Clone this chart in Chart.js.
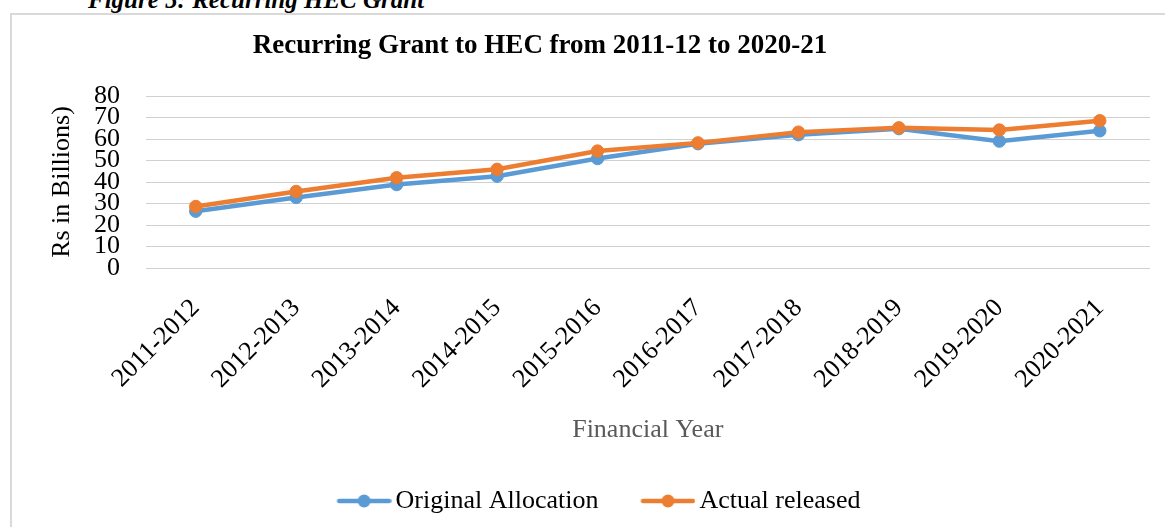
<!DOCTYPE html>
<html><head><meta charset="utf-8">
<script src="https://cdn.jsdelivr.net/npm/chart.js@4.4.1/dist/chart.umd.min.js"></script>
<style>
html,body{margin:0;padding:0;background:#fff;overflow:hidden;width:1165px;height:527px;}
#frame{position:absolute;left:10px;top:13px;width:1400px;height:800px;border:2px solid #d9d9d9;box-sizing:border-box;}
#cap{position:absolute;left:88px;top:-13px;font:italic bold 25px "Liberation Serif","Times New Roman",serif;line-height:25px;white-space:nowrap;color:#000;}
#c{position:absolute;left:0;top:0;}
</style></head><body>
<div id="frame"></div>
<div id="cap">Figure 5: Recurring HEC Grant</div>
<canvas id="c" width="1165" height="527"></canvas>
<script>
const categories = ['2011-2012','2012-2013','2013-2014','2014-2015','2015-2016','2016-2017','2017-2018','2018-2019','2019-2020','2020-2021'];
const originalAllocation = [26.4, 32.8, 38.8, 42.7, 50.9, 57.8, 62.0, 64.8, 59.0, 63.8];
const actualReleased = [28.6, 35.6, 42.0, 45.9, 54.4, 58.2, 63.2, 65.2, 64.2, 68.5];
const seriesNames = ['Original Allocation', 'Actual released'];
const yMin = 0, yMax = 80, yTickCount = 9;
const chartTitle = 'Recurring Grant to HEC from 2011-12 to 2020-21';
const xTitle = 'Financial Year';
const yTitle = 'Rs in Billions)';

const FONT = '"Liberation Serif", "Times New Roman", serif';
const BLUE = '#5B9BD5', ORANGE = '#ED7D31';
const TITLE_CX = 540;
const LEGEND_BOX_CX = 584.5;
const Y_AXIS_WIDTH = 99.1;
const X_AXIS_HEIGHT = 206;

function marker(color) {
  const c = document.createElement('canvas');
  c.width = 92; c.height = 16;
  const g = c.getContext('2d');
  g.strokeStyle = color; g.lineWidth = 4.5; g.lineCap = 'round';
  g.beginPath(); g.moveTo(39.5, 8); g.lineTo(89.5, 8); g.stroke();
  g.fillStyle = color;
  g.beginPath(); g.arc(64.5, 8, 6.5, 0, Math.PI * 2); g.fill();
  return c;
}
const markers = [marker(BLUE), marker(ORANGE)];

const shiftBoxes = {
  id: 'shiftBoxes',
  afterLayout(chart) {
    const t = chart.titleBlock;
    if (t) { const d = TITLE_CX - (t.left + t.right) / 2; t.left += d; t.right += d; }
    const l = chart.legend;
    if (l) { const d = LEGEND_BOX_CX - (l.left + l.right) / 2; l.left += d; l.right += d; }
  }
};

new Chart(document.getElementById('c'), {
  type: 'line',
  data: {
    labels: categories,
    datasets: [
      { label: seriesNames[0], data: originalAllocation, borderColor: BLUE, backgroundColor: BLUE,
        borderWidth: 4.5, pointRadius: 6.2, pointBorderWidth: 1, pointBackgroundColor: BLUE, pointBorderColor: BLUE,
        tension: 0, order: 1 },
      { label: seriesNames[1], data: actualReleased, borderColor: ORANGE, backgroundColor: ORANGE,
        borderWidth: 4.5, pointRadius: 6.2, pointBorderWidth: 1, pointBackgroundColor: ORANGE, pointBorderColor: ORANGE,
        tension: 0, order: 0 }
    ]
  },
  options: {
    responsive: false,
    animation: false,
    events: [],
    layout: { padding: { left: 46.4, right: 15, top: 0, bottom: 3 } },
    plugins: {
      tooltip: { enabled: false },
      title: { display: true, text: chartTitle, color: '#000',
        font: { family: FONT, size: 27, weight: 'bold' }, padding: { top: 29.7, bottom: 33.9 } },
      legend: {
        position: 'bottom',
        labels: {
          usePointStyle: true, pointStyleWidth: 74, padding: 14, color: '#000',
          font: { family: FONT, size: 26 },
          sort: (a, b) => a.datasetIndex - b.datasetIndex,
          generateLabels(chart) {
            const items = Chart.defaults.plugins.legend.labels.generateLabels(chart);
            items.forEach(it => { it.pointStyle = markers[it.datasetIndex]; });
            return items;
          }
        }
      }
    },
    scales: {
      x: {
        type: 'category', offset: true,
        afterFit(scale) { scale.height = X_AXIS_HEIGHT; },
        grid: { display: false, drawTicks: false }, border: { display: false },
        ticks: { font: { family: FONT, size: 26 }, color: '#000', minRotation: 45, maxRotation: 45,
          autoSkip: false, padding: 25, labelOffset: 0 },
        title: { display: true, text: xTitle, color: '#595959', font: { family: FONT, size: 26 },
          padding: { top: 20.1, bottom: 28 } }
      },
      y: {
        min: yMin, max: yMax,
        afterFit(scale) { scale.width = Y_AXIS_WIDTH; },
        ticks: { count: yTickCount, autoSkip: false, font: { family: FONT, size: 26 }, color: '#000', padding: 25.5 },
        grid: { color: '#d0d0d0', lineWidth: 1, drawTicks: false }, border: { display: false },
        title: { display: true, text: yTitle, color: '#000', font: { family: FONT, size: 26 },
          padding: { top: 0, bottom: 16.4 } }
      }
    }
  },
  plugins: [shiftBoxes]
});
</script>
</body></html>
